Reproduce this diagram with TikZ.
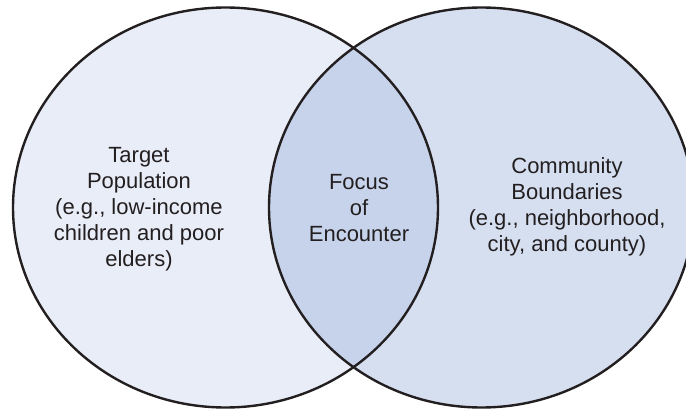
\documentclass[tikz,border=0pt]{standalone}
\usepackage{fontspec}
\setmainfont{Liberation Sans}
\begin{document}
\begin{tikzpicture}[x=1pt,y=-1pt]
  \definecolor{inkline}{HTML}{231F20}
  \definecolor{leftfill}{HTML}{E9EDF7}
  \definecolor{rightfill}{HTML}{D6DFF0}
  \definecolor{lensfill}{HTML}{C7D3EB}
  \tikzset{
    setpath/.style={line width=2.4pt, draw=inkline},
    label/.style={align=center, text=inkline, inner sep=0pt,
      font=\fontsize{22}{26}\selectfont}
  }
  \useasboundingbox (0,0) rectangle (686,409);
  \clip (0,0) rectangle (686,409);
  \coordinate (cl) at (225.5,207.5);
  \coordinate (cr) at (481.5,207.5);
  % set fills
  \fill[leftfill] (cl) ellipse [x radius=212.5pt, y radius=200pt];
  \fill[rightfill] (cr) ellipse [x radius=212.5pt, y radius=200pt];
  \begin{scope}
    \clip (cl) ellipse [x radius=212.5pt, y radius=200pt];
    \fill[lensfill] (cr) ellipse [x radius=212.5pt, y radius=200pt];
  \end{scope}
  % set outlines
  \draw[setpath] (cl) ellipse [x radius=212.5pt, y radius=200pt];
  \draw[setpath] (cr) ellipse [x radius=212.5pt, y radius=200pt];
  % labels
  \node[label] (target) at (139,209) {Target\\Population\\(e.g., low-income\\children and poor\\elders)};
  \node[label] (focus) at (359,208) {Focus\\of\\Encounter};
  \node[label] (community) at (567,207) {Community\\Boundaries\\(e.g., neighborhood,\\city, and county)};
\end{tikzpicture}
\end{document}
